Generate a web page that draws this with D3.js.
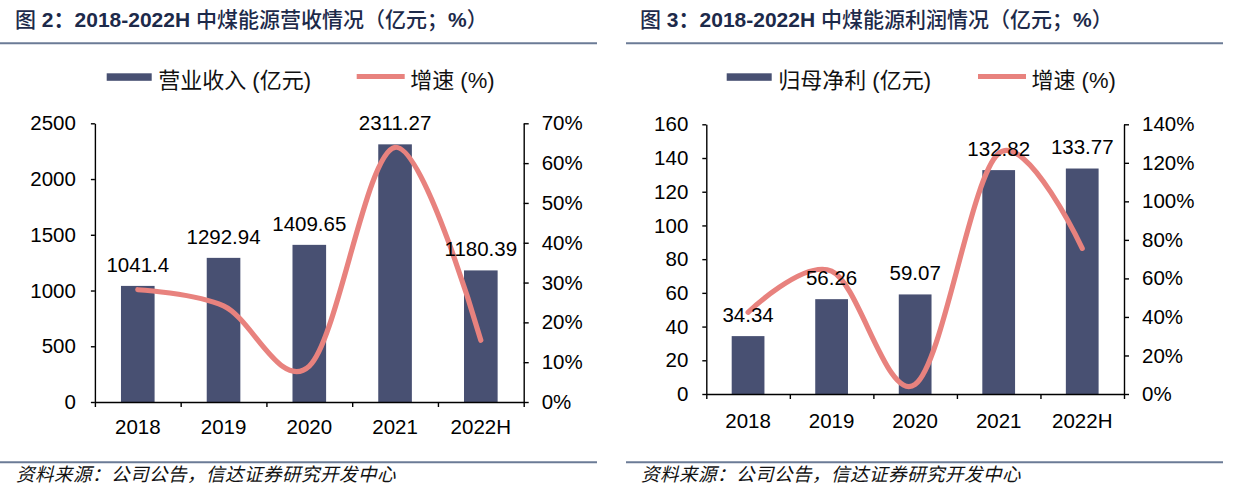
<!DOCTYPE html>
<html><head><meta charset="utf-8">
<script src="https://cdn.jsdelivr.net/npm/d3@7/dist/d3.min.js"></script>
<style>
html,body{margin:0;padding:0;background:#fff;}
svg{display:block;}
text{font-family:"Liberation Sans",Arial,"Noto Sans CJK SC",sans-serif;}
</style></head>
<body>
<svg id="chart" width="1253" height="500"></svg>
<script>
// ---- data ----
const categories = ["2018", "2019", "2020", "2021", "2022H"];
const revenue = [1041.4, 1292.94, 1409.65, 2311.27, 1180.39];
const revenueGrowth = [28.2, 24.15, 9.03, 63.96, 15.5];
const profit = [34.34, 56.26, 59.07, 132.82, 133.77];
const profitGrowth = [42.4, 63.8, 5.0, 124.9, 75.6];
const revenueTicks = [0, 500, 1000, 1500, 2000, 2500];
const revenuePctTicks = [0, 10, 20, 30, 40, 50, 60, 70];
const profitTicks = [0, 20, 40, 60, 80, 100, 120, 140, 160];
const profitPctTicks = [0, 20, 40, 60, 80, 100, 120, 140];
const revenueLabels = ["1041.4", "1292.94", "1409.65", "2311.27", "1180.39"];
const profitLabels = ["34.34", "56.26", "59.07", "132.82", "133.77"];

const BAR = "#485072", LINE = "#e8827e", NAVY = "#1d2a4a", RULE = "#6b7b96";
const svg = d3.select("#chart");
svg.append("rect").attr("width",1253).attr("height",500).attr("fill","#fff");

function panel(cfg){
  const g = svg.append("g");
  // title
  const t = g.append("text").attr("x", cfg.titleX).attr("y", 27)
    .attr("font-size", 21).attr("fill", NAVY);
  cfg.title.forEach(p => t.append("tspan").text(p[0])
      .attr("font-weight", p[1] ? "bold" : "500"));
  g.append("line").attr("x1", cfg.ruleX0).attr("x2", cfg.ruleX1)
    .attr("y1", 43.3).attr("y2", 43.3).attr("stroke", RULE).attr("stroke-width", 2);
  // footer
  g.append("line").attr("x1", cfg.ruleX0).attr("x2", cfg.ruleX1)
    .attr("y1", 462.3).attr("y2", 462.3).attr("stroke", RULE).attr("stroke-width", 2);
  g.append("text").attr("x", cfg.titleX + 1).attr("y", 481)
    .attr("font-size", 18.5).attr("font-style", "italic").attr("letter-spacing", 0.5)
    .attr("fill", "#111")
    .style("font-family", '"Noto Sans CJK SC",sans-serif')
    .text("资料来源：公司公告，信达证券研究开发中心");

  // legend
  g.append("rect").attr("x", cfg.legX).attr("y", 73.3).attr("width", 45).attr("height", 7.5).attr("fill", BAR);
  g.append("text").attr("x", cfg.legX + 51.5).attr("y", 88).attr("font-size", 22).attr("fill", "#111").text(cfg.legBar);
  g.append("line").attr("x1", cfg.legLineX).attr("x2", cfg.legLineX + 48).attr("y1", 76.5).attr("y2", 76.5)
    .attr("stroke", LINE).attr("stroke-width", 5);
  g.append("text").attr("x", cfg.legLineX + 53.5).attr("y", 88).attr("font-size", 22).attr("fill", "#111").text("增速 (%)");

  const x = d3.scaleBand().domain(categories).range([cfg.x0, cfg.x1]).padding(0);
  const xi = d3.scaleLinear().domain([0, categories.length]).range([cfg.x0, cfg.x1]);
  const y = d3.scaleLinear().domain([cfg.ticks[0], cfg.ticks[cfg.ticks.length-1]]).range([cfg.yb, cfg.yt]);
  const yr = d3.scaleLinear().domain([cfg.pticks[0], cfg.pticks[cfg.pticks.length-1]]).range([cfg.yb, cfg.yt]);
  const bw = x.bandwidth() * 0.392;

  // bars
  g.selectAll(".bar").data(cfg.bars).enter().append("rect")
    .attr("x", (d,i) => x(categories[i]) + (x.bandwidth() - bw)/2)
    .attr("y", d => y(d)).attr("width", bw).attr("height", d => cfg.yb - y(d))
    .attr("fill", BAR);

  // axes
  const styleAxis = sel => {
    sel.select(".domain").attr("stroke", "#000").attr("stroke-width", 1.4);
    sel.selectAll(".tick line").attr("stroke", "#000").attr("stroke-width", 1.4);
    sel.selectAll("text").attr("font-size", 20.5).attr("fill", "#000")
      .style("font-family", '"Liberation Sans",Arial,sans-serif');
  };
  g.append("g").attr("transform", `translate(${cfg.x0},0)`)
    .call(d3.axisLeft(y).tickValues(cfg.ticks).tickSize(4).tickPadding(cfg.lpad).tickSizeOuter(0)
      .tickFormat(d3.format("d")))
    .call(styleAxis);
  g.append("g").attr("transform", `translate(${cfg.x1},0)`)
    .call(d3.axisRight(yr).tickValues(cfg.pticks).tickSize(5).tickPadding(13).tickSizeOuter(0)
      .tickFormat(d => d + "%"))
    .call(styleAxis);
  g.append("g").attr("transform", `translate(0,${cfg.yb})`)
    .call(d3.axisBottom(xi).tickValues(d3.range(categories.length + 1)).tickSize(5).tickFormat("").tickSizeOuter(0))
    .call(styleAxis);
  g.append("g").attr("transform", `translate(0,${cfg.yb})`)
    .call(d3.axisBottom(x).tickSize(0).tickPadding(cfg.xpad))
    .call(styleAxis).call(s => s.select(".domain").remove());

  // growth line
  const line = d3.line().x((d,i) => x(categories[i]) + x.bandwidth()/2).y(d => yr(d)).curve(d3.curveCardinal.tension(0));
  g.append("path").datum(cfg.growth).attr("d", line).attr("fill", "none")
    .attr("stroke", LINE).attr("stroke-width", 5.2).attr("stroke-linecap", "round");

  // data labels
  g.selectAll(".lab").data(cfg.bars).enter().append("text")
    .attr("x", (d,i) => x(categories[i]) + x.bandwidth()/2)
    .attr("y", d => y(d) - 21.5).attr("dy", "0.35em")
    .attr("text-anchor", "middle").attr("font-size", 20.5).attr("fill", "#000")
    .text((d,i) => cfg.labels[i]);
}

panel({
  title: [["图 ", false], ["2：2018-2022H ", true], ["中煤能源营收情况（亿元；", false], ["%", true], ["）", false]],
  titleX: 15, ruleX0: 0, ruleX1: 597,
  legX: 106.7, legLineX: 356.7, legBar: "营业收入 (亿元)",
  x0: 94.9, x1: 523.7, yt: 123.3, yb: 402, lpad: 15, xpad: 17,
  ticks: revenueTicks, pticks: revenuePctTicks,
  bars: revenue, growth: revenueGrowth, labels: revenueLabels
});
panel({
  title: [["图 ", false], ["3：2018-2022H ", true], ["中煤能源利润情况（亿元；", false], ["%", true], ["）", false]],
  titleX: 640, ruleX0: 626, ruleX1: 1223,
  legX: 726.7, legLineX: 978, legBar: "归母净利 (亿元)",
  x0: 706.3, x1: 1124, yt: 124.3, yb: 394, lpad: 14, xpad: 19,
  ticks: profitTicks, pticks: profitPctTicks,
  bars: profit, growth: profitGrowth, labels: profitLabels
});
</script>
</body></html>
